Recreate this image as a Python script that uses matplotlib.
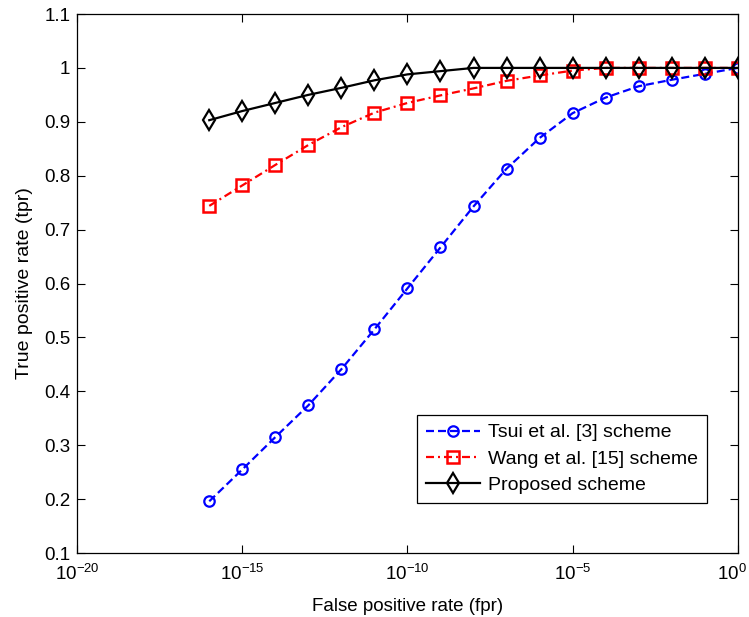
import numpy as np
import matplotlib.pyplot as plt
from matplotlib.ticker import NullLocator, LogFormatterMathtext
from matplotlib.transforms import ScaledTranslation

plt.rcParams['font.family'] = ['Liberation Sans', 'DejaVu Sans']
plt.rcParams['mathtext.fontset'] = 'custom'
plt.rcParams['mathtext.rm'] = 'Liberation Sans'

# false positive rates: 1e-16 ... 1e0
fpr_exp = list(range(-16, 1))
fpr = [10.0 ** e for e in fpr_exp]

tsui = [0.196, 0.255, 0.315, 0.374, 0.441, 0.515, 0.591, 0.667, 0.743,
        0.813, 0.870, 0.916, 0.945, 0.966, 0.978, 0.989, 1.0]
wang = [0.744, 0.782, 0.820, 0.857, 0.890, 0.917, 0.935, 0.949, 0.962,
        0.976, 0.986, 0.995, 1.0, 1.0, 1.0, 1.0, 1.0]
proposed = [0.903, 0.920, 0.935, 0.950, 0.963, 0.977, 0.988, 0.994, 1.0,
            1.0, 1.0, 1.0, 1.0, 1.0, 1.0, 1.0, 1.0]

labels = ['Tsui et al. [3] scheme', 'Wang et al. [15] scheme', 'Proposed scheme']

fig = plt.figure(figsize=(7.49, 6.17), dpi=100)
ax = fig.add_axes([0.103, 0.1037, 0.882, 0.8736])

ax.plot(fpr, tsui, color='#0000ff', linestyle='--', dashes=(3.6, 1.8), lw=1.6,
        marker='o', ms=7.5, mfc='none', mew=1.6, label=labels[0])
ax.plot(fpr, wang, color='#ff0000', linestyle='-.', dashes=(3.6, 1.8, 0.9, 1.8), lw=1.6,
        marker='s', ms=8.5, mfc='none', mew=1.8, label=labels[1])
ax.plot(fpr, proposed, color='black', linestyle='-', lw=1.6,
        marker='d', ms=10, mfc='none', mew=1.6, label=labels[2])

ax.set_xscale('log')
ax.set_xlim(1e-20, 1e0)
ax.set_ylim(0.1, 1.1)
ax.set_xticks([1e-20, 1e-15, 1e-10, 1e-5, 1e0])
ax.xaxis.set_major_formatter(LogFormatterMathtext())
ax.xaxis.set_minor_locator(NullLocator())
ax.set_yticks(np.arange(0.1, 1.11, 0.1))
ax.set_yticklabels(['0.1', '0.2', '0.3', '0.4', '0.5', '0.6', '0.7', '0.8', '0.9', '1', '1.1'])

ax.tick_params(direction='in', top=True, right=True, length=6, width=0.8,
               labelsize=13.5, colors='black')
ax.tick_params(axis='x', pad=8)
ax.tick_params(axis='y', pad=5)
for s in ax.spines.values():
    s.set_linewidth(0.9)

# keep the 10^0 label inside the figure, like the original
last = ax.xaxis.get_major_ticks()[-1].label1
last.set_horizontalalignment('right')
last.set_transform(last.get_transform() + ScaledTranslation(0.09, 0, fig.dpi_scale_trans))

ax.set_xlabel('False positive rate (fpr)', fontsize=13.5, labelpad=10)
ax.set_ylabel('True positive rate (tpr)', fontsize=14, labelpad=8)

leg = ax.legend(loc='lower right', bbox_to_anchor=(0.953, 0.093), borderaxespad=0,
                fontsize=14, fancybox=False, edgecolor='black', framealpha=1,
                handlelength=2.8, handletextpad=0.4, labelspacing=0.45, borderpad=0.45)
leg.get_frame().set_linewidth(0.9)

fig.savefig('out.png', dpi=100)
